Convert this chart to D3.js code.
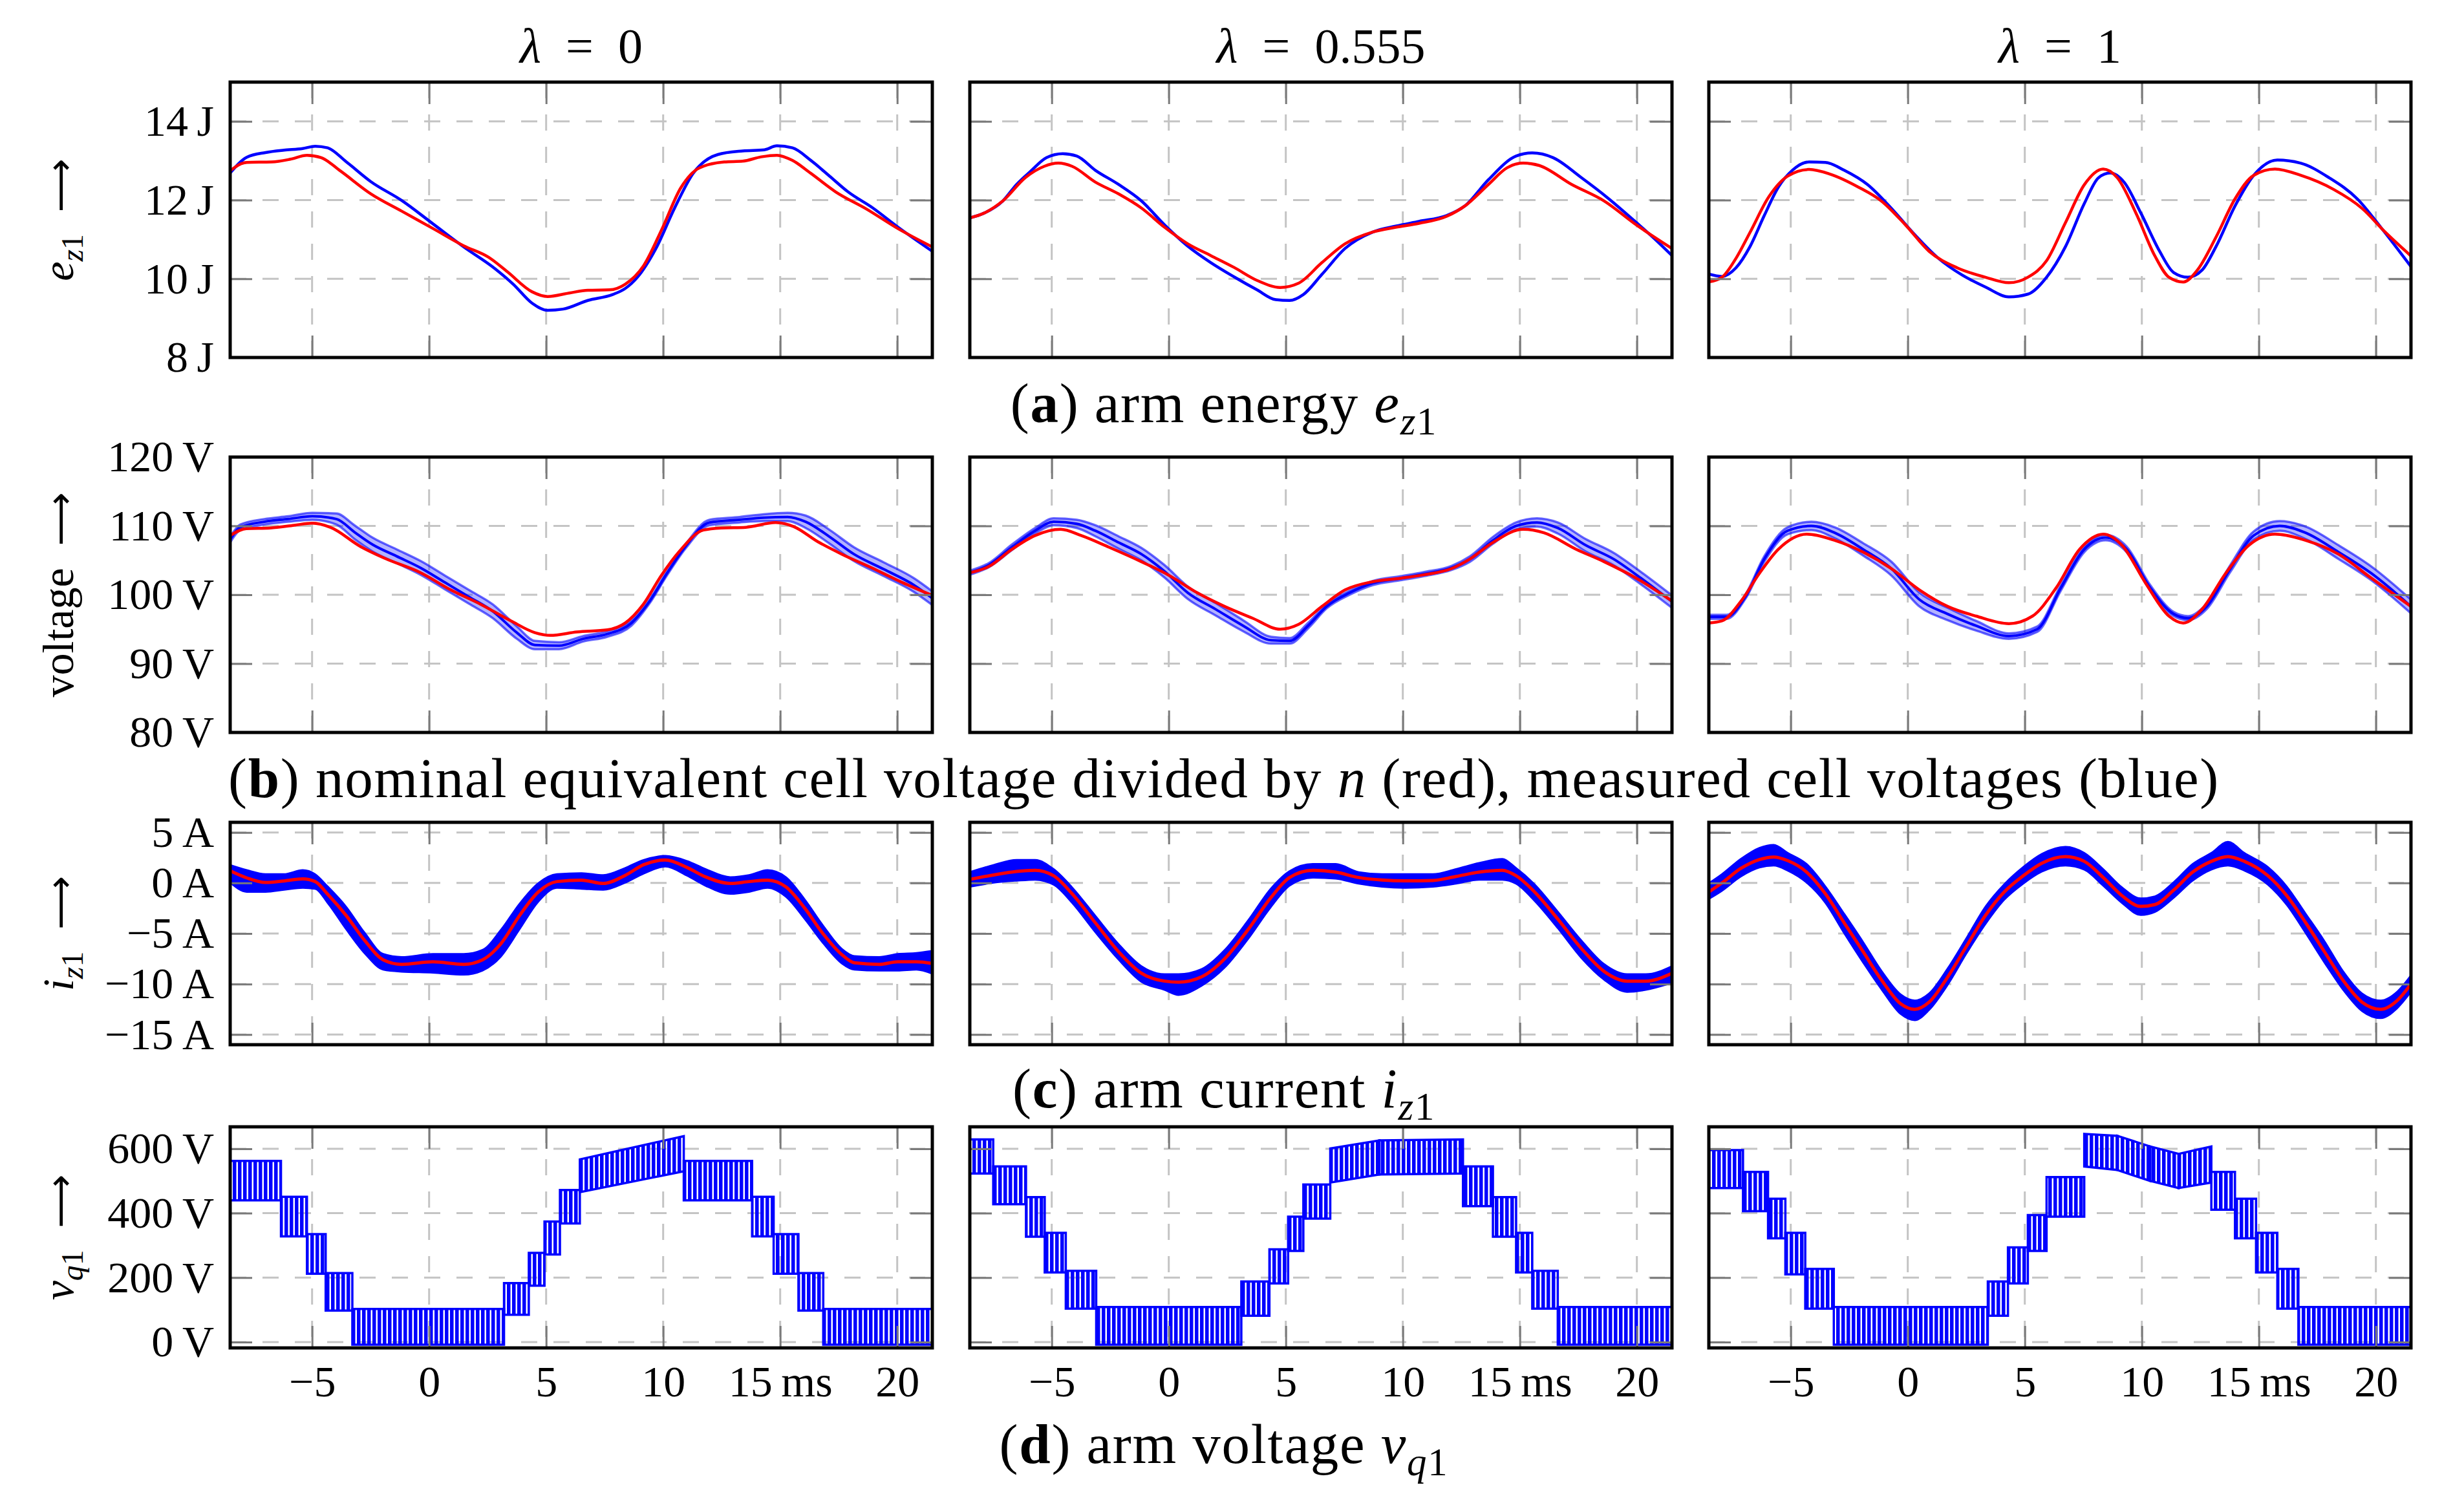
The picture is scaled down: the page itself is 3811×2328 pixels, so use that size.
<!DOCTYPE html>
<meta charset="utf-8">
<style>
body { margin: 0; background: white; }
text { font-family: "Liberation Serif", "DejaVu Serif", serif; fill: black; }
.grid line { stroke: #c4c4c4; stroke-width: 3; stroke-dasharray: 25 25; }
.frame { fill: none; stroke: black; stroke-width: 5; }
</style>
<body>
<script src="https://d3js.org/d3.v7.min.js"></script>
<script>
// ---------- data ----------
var timeDomain = [-8.5, 21.5];
var timeTicks = [-5, 0, 5, 10, 15, 20];
var timeTickLabels = ["\u22125", "0", "5", "10", "15\u2009ms", "20"];
var lambdas = ["0", "0.555", "1"];

var energyTicks = [8, 10, 12, 14];
var cellTicks = [80, 90, 100, 110, 120];
var currentTicks = [-15, -10, -5, 0, 5];
var armTicks = [0, 200, 400, 600];

// (a) arm energy [ms, J]
var energyBlue0 = [[-8.5,12.69],[-7.79,13.09],[-6.99,13.21],[-6.2,13.27],[-5.4,13.31],[-4.87,13.37],[-4.34,13.33],[-3.55,12.98],[-2.49,12.47],[-1.17,11.99],[0.16,11.40],[1.48,10.81],[2.81,10.26],[3.6,9.86],[4.4,9.38],[5.06,9.20],[5.72,9.23],[6.78,9.45],[7.84,9.60],[8.37,9.75],[8.9,10.04],[9.69,10.77],[10.49,11.80],[11.28,12.68],[12.34,13.16],[13.4,13.25],[14.33,13.28],[14.86,13.38],[15.52,13.33],[16.31,13.01],[17.11,12.61],[17.9,12.21],[18.96,11.80],[20.02,11.32],[21.5,10.70]];
var energyRed0 = [[-8.5,12.75],[-7.79,12.96],[-6.73,12.97],[-5.93,13.04],[-5.22,13.14],[-4.61,13.08],[-3.81,12.75],[-2.49,12.16],[-1.17,11.72],[0.16,11.28],[1.48,10.84],[2.54,10.55],[3.34,10.18],[4.4,9.67],[5.06,9.55],[5.99,9.64],[6.78,9.71],[7.71,9.72],[8.37,9.86],[9.16,10.33],[9.96,11.28],[10.75,12.31],[11.55,12.82],[12.61,12.97],[13.4,12.99],[14.19,13.10],[14.86,13.14],[15.52,13.01],[16.31,12.68],[17.37,12.21],[18.7,11.77],[20.02,11.28],[21.5,10.81]];
var energyBlue1 = [[-8.5,11.55],[-7.89,11.67],[-7.09,11.98],[-6.5,12.40],[-5.91,12.73],[-5.22,13.08],[-4.53,13.18],[-3.93,13.12],[-3.14,12.76],[-2.15,12.40],[-1.17,11.98],[-0.18,11.37],[0.81,10.83],[1.8,10.41],[2.79,10.05],[3.77,9.72],[4.57,9.47],[5.16,9.45],[5.75,9.60],[6.54,10.11],[7.53,10.77],[8.72,11.19],[9.7,11.34],[10.69,11.46],[11.88,11.61],[12.67,11.86],[13.66,12.52],[14.84,13.12],[15.53,13.20],[16.42,13.08],[17.61,12.58],[18.79,12.04],[19.98,11.43],[20.77,11.01],[21.5,10.59]];
var energyRed1 = [[-8.5,11.55],[-7.89,11.67],[-7.09,11.98],[-6.11,12.58],[-5.32,12.86],[-4.72,12.94],[-4.13,12.86],[-3.14,12.46],[-2.15,12.16],[-1.17,11.80],[-0.18,11.31],[0.81,10.89],[1.8,10.59],[2.79,10.29],[3.77,9.96],[4.76,9.78],[5.55,9.89],[6.54,10.41],[7.53,10.89],[8.72,11.19],[9.7,11.31],[10.69,11.41],[11.88,11.59],[12.67,11.86],[13.66,12.40],[14.45,12.82],[15.14,12.94],[15.83,12.88],[17.21,12.40],[18.6,11.98],[19.98,11.37],[21.5,10.77]];
var energyBlue2 = [[-8.5,10.12],[-7.94,10.06],[-7.34,10.28],[-6.74,10.82],[-6.13,11.61],[-5.53,12.33],[-4.93,12.76],[-4.22,12.97],[-3.52,12.96],[-2.72,12.76],[-1.71,12.39],[-0.7,11.79],[0.3,11.12],[1.31,10.52],[2.31,10.10],[3.32,9.79],[4.32,9.54],[5.13,9.61],[5.93,10.04],[6.74,10.82],[7.54,11.91],[8.15,12.57],[8.65,12.69],[9.25,12.45],[9.96,11.67],[10.76,10.70],[11.36,10.16],[11.97,10.04],[12.57,10.22],[13.17,10.82],[13.98,11.85],[14.78,12.63],[15.79,13.02],[16.79,12.94],[18.0,12.57],[19.21,12.03],[20.21,11.31],[21.5,10.31]];
var energyRed2 = [[-8.5,9.92],[-7.94,10.04],[-7.34,10.52],[-6.74,11.18],[-5.93,12.09],[-5.13,12.61],[-4.22,12.78],[-3.32,12.66],[-2.11,12.33],[-1.11,11.97],[-0.1,11.37],[0.91,10.70],[2.11,10.28],[3.32,10.04],[4.32,9.90],[5.13,10.04],[5.93,10.46],[6.74,11.43],[7.54,12.39],[8.35,12.79],[8.95,12.57],[9.75,11.67],[10.56,10.58],[11.16,10.04],[11.77,9.92],[12.37,10.22],[13.17,11.06],[13.98,12.03],[14.78,12.63],[15.69,12.79],[16.79,12.63],[18.2,12.27],[19.41,11.79],[20.41,11.18],[21.5,10.58]];

// (b) cell voltage: red [ms, V], blue [ms, mean V, half spread V]
var cellRed0 = [[-8.5,108.6],[-7.81,109.6],[-6.79,109.7],[-5.76,110.1],[-4.99,110.4],[-4.22,109.8],[-2.93,107.0],[-1.9,105.3],[-0.36,103.2],[0.93,100.7],[2.21,98.6],[3.5,96.2],[4.52,94.5],[5.17,94.1],[6.32,94.6],[7.61,94.9],[8.38,95.9],[9.15,98.6],[9.92,102.8],[10.69,106.3],[11.72,109.4],[12.49,109.7],[13.52,109.8],[14.81,110.5],[15.58,109.9],[16.61,107.7],[17.63,105.9],[18.92,103.9],[20.21,101.8],[21.5,99.9]];
var cellBlue0 = [[-8.5,108.0,0.4],[-8.07,109.8,0.4],[-7.04,110.6,0.4],[-6.02,111.0,0.4],[-4.99,111.4,0.5],[-3.96,111.0,0.8],[-3.19,109.1,1.0],[-2.42,107.3,1.0],[-1.39,105.6,1.0],[-0.36,103.9,1.0],[0.67,101.8,1.0],[1.7,99.7,1.0],[2.72,97.6,1.0],[3.75,94.5,0.9],[4.52,92.7,0.6],[5.55,92.6,0.5],[6.58,93.6,0.4],[7.61,94.3,0.4],[8.64,95.9,0.4],[9.41,99.0,0.3],[10.18,103.2,0.3],[10.95,107.0,0.3],[11.98,110.5,0.4],[13.26,110.9,0.4],[14.29,111.2,0.5],[15.32,111.3,0.6],[16.09,110.6,0.9],[17.12,108.4,1.0],[18.15,105.9,1.0],[19.43,103.7,1.0],[20.72,101.4,1.0],[21.5,99.5,1.0]];
var cellRed1 = [[-8.5,103.2],[-7.69,104.1],[-6.7,106.6],[-5.71,108.6],[-4.62,109.5],[-3.74,108.6],[-2.55,106.9],[-1.17,104.8],[0.02,102.8],[1.21,100.3],[2.39,98.3],[3.58,96.6],[4.76,95.0],[5.55,95.7],[6.54,98.3],[7.53,100.7],[8.72,101.9],[9.9,102.4],[10.89,102.9],[12.08,103.8],[12.87,105.2],[13.85,107.6],[15.14,109.5],[16.03,109.0],[17.41,106.6],[18.6,104.8],[19.98,102.4],[21.5,99.1]];
var cellBlue1 = [[-8.5,103.2,0.3],[-7.69,104.3,0.3],[-6.7,106.9,0.4],[-5.71,109.3,0.4],[-4.92,110.6,0.5],[-3.93,110.3,0.6],[-3.14,109.3,0.8],[-2.15,107.6,0.9],[-1.17,105.9,0.9],[-0.18,103.4,0.9],[0.81,100.3,0.9],[2.0,97.9,0.9],[3.18,95.5,0.8],[4.37,93.4,0.5],[5.16,93.3,0.4],[5.95,95.5,0.4],[6.74,98.3,0.3],[7.73,100.3,0.3],[8.72,101.7,0.3],[9.9,102.4,0.3],[10.89,103.0,0.3],[12.08,103.9,0.3],[12.87,105.2,0.4],[13.85,107.9,0.5],[14.84,110.0,0.5],[15.73,110.5,0.6],[16.62,109.7,0.8],[17.81,107.2,0.9],[19.0,105.2,0.9],[20.18,102.4,0.9],[21.5,99.0,0.9]];
var cellRed2 = [[-8.5,95.9],[-7.94,96.2],[-7.14,99.0],[-6.34,103.1],[-5.53,106.6],[-4.32,108.8],[-3.12,107.9],[-1.91,106.2],[-0.7,103.8],[0.5,100.7],[1.71,98.3],[2.92,96.9],[4.32,95.8],[5.33,96.9],[6.34,101.0],[7.34,106.6],[8.35,108.8],[9.15,107.2],[10.16,101.7],[11.16,96.9],[11.77,95.9],[12.57,97.9],[13.58,103.1],[14.58,107.2],[15.69,108.8],[17.0,107.9],[18.4,105.9],[19.81,102.4],[21.5,98.3]];
var cellBlue2 = [[-8.5,96.8,0.3],[-7.74,96.8,0.3],[-6.94,99.7,0.3],[-6.13,105.2,0.4],[-5.13,109.3,0.5],[-4.12,110.0,0.6],[-3.12,109.0,0.8],[-1.91,106.6,0.9],[-0.7,103.8,1.0],[0.5,99.3,1.0],[1.71,97.2,0.9],[2.92,95.5,0.7],[4.32,94.0,0.4],[5.53,95.0,0.4],[6.54,101.0,0.4],[7.54,106.6,0.4],[8.45,108.3,0.4],[9.35,106.6,0.4],[10.36,101.0,0.4],[11.36,97.2,0.3],[11.97,96.6,0.3],[12.77,98.3,0.4],[13.78,103.8,0.5],[14.78,108.6,0.6],[15.89,110.0,0.7],[17.0,109.0,0.9],[18.4,106.2,1.0],[19.81,103.1,1.0],[21.5,98.3,1.0]];

// (c) arm current: red [ms, A], blue noise band [ms, low A, high A]
var currentRed0 = [[-8.5,1.2],[-7.79,0.5],[-6.99,0.05],[-6.2,0.2],[-5.4,0.4],[-4.87,0.14],[-4.34,-1.1],[-3.55,-3.2],[-2.75,-5.7],[-1.96,-7.6],[-1.17,-8.05],[0.16,-7.8],[1.48,-8.05],[2.28,-7.6],[3.07,-6.0],[3.87,-3.2],[4.66,-0.9],[5.46,0.14],[6.51,0.28],[7.44,-0.05],[8.37,0.74],[9.16,1.8],[10.09,2.27],[11.02,1.53],[11.81,0.6],[12.87,-0.05],[13.67,0.14],[14.46,0.28],[15.25,-0.4],[16.05,-2.5],[16.84,-5.05],[17.64,-7.1],[18.17,-7.9],[19.23,-8.05],[20.02,-7.8],[20.82,-7.8],[21.5,-7.96]];
var currentBlue0 = [[-8.5,0.0,1.8],[-7.79,-0.9,1.3],[-6.99,-0.9,0.9],[-6.2,-0.7,0.9],[-5.4,-0.5,1.3],[-4.87,-0.6,0.9],[-4.34,-2.0,-0.3],[-3.55,-4.6,-2.3],[-2.75,-7.0,-4.9],[-1.96,-8.6,-7.0],[-1.17,-8.8,-7.3],[0.16,-8.9,-7.0],[1.48,-9.1,-7.0],[2.28,-8.7,-6.6],[3.07,-7.3,-4.6],[3.87,-4.6,-2.0],[4.66,-1.9,0.0],[5.46,-0.5,0.9],[6.51,-0.6,1.0],[7.44,-0.7,0.8],[8.37,0.0,1.5],[9.16,0.9,2.3],[10.09,1.6,2.7],[11.02,0.7,2.2],[11.81,-0.3,1.4],[12.87,-1.1,0.6],[13.67,-0.9,0.8],[14.46,-0.5,1.3],[15.25,-1.4,0.6],[16.05,-3.6,-1.6],[16.84,-6.0,-4.2],[17.64,-8.0,-6.5],[18.17,-8.6,-7.2],[19.23,-8.7,-7.3],[20.02,-8.7,-7.0],[20.82,-8.6,-6.9],[21.5,-9.0,-6.7]];
var currentRed1 = [[-8.5,0.36],[-7.49,0.79],[-6.5,1.14],[-5.71,1.25],[-4.92,0.71],[-4.13,-1.07],[-3.14,-3.93],[-2.15,-6.79],[-1.17,-8.93],[-0.18,-9.71],[0.42,-9.82],[1.4,-9.29],[2.39,-7.5],[3.38,-4.64],[4.37,-1.43],[5.16,0.54],[6.15,1.25],[7.13,1.07],[8.12,0.54],[9.11,0.29],[10.1,0.21],[11.28,0.25],[12.27,0.64],[13.26,1.07],[14.25,1.25],[14.84,0.71],[15.63,-0.89],[16.62,-3.57],[17.61,-6.43],[18.6,-8.75],[19.58,-9.71],[20.38,-9.71],[21.5,-8.93]];
var currentBlue1 = [[-8.5,-0.4,1.1],[-7.49,0.0,1.8],[-6.5,0.2,2.3],[-5.71,0.3,2.3],[-4.92,-0.2,1.4],[-4.13,-2.0,-0.4],[-3.14,-4.9,-3.2],[-2.15,-7.6,-6.0],[-1.17,-9.8,-8.2],[-0.18,-10.6,-9.0],[0.42,-11.1,-9.0],[1.4,-10.2,-8.5],[2.39,-8.4,-6.6],[3.38,-5.6,-3.7],[4.37,-2.4,-0.5],[5.16,-0.3,1.2],[6.15,0.5,1.9],[7.13,0.4,1.9],[8.12,-0.1,1.1],[9.11,-0.4,0.9],[10.1,-0.5,0.9],[11.28,-0.4,0.9],[12.27,-0.1,1.4],[13.26,0.3,2.0],[14.25,0.3,2.4],[14.84,-0.1,1.5],[15.63,-1.8,-0.1],[16.62,-4.5,-2.8],[17.61,-7.4,-5.6],[18.6,-9.6,-8.0],[19.58,-10.8,-9.0],[20.38,-10.6,-9.0],[21.5,-9.9,-8.2]];
var currentRed2 = [[-8.5,-0.89],[-7.94,0.0],[-7.14,1.43],[-6.34,2.32],[-5.73,2.57],[-5.13,2.21],[-4.32,1.07],[-3.52,-1.07],[-2.72,-3.93],[-1.91,-6.79],[-1.11,-9.64],[-0.3,-11.96],[0.3,-12.5],[0.91,-11.79],[1.71,-9.29],[2.51,-6.25],[3.32,-3.21],[4.12,-0.89],[4.93,0.71],[5.73,1.96],[6.74,2.61],[7.54,2.14],[8.35,0.54],[9.15,-1.25],[9.96,-2.32],[10.56,-2.14],[11.36,-0.71],[12.17,1.07],[12.97,2.14],[13.68,2.61],[14.38,2.14],[15.39,0.71],[16.19,-1.25],[17.0,-3.93],[17.8,-6.79],[18.6,-9.64],[19.41,-11.79],[20.21,-12.5],[20.92,-11.61],[21.5,-10.0]];
var currentBlue2 = [[-8.5,-1.6,0.0],[-7.94,-0.8,0.9],[-7.14,0.6,2.4],[-6.34,1.5,3.5],[-5.73,1.7,3.8],[-5.13,1.2,3.0],[-4.32,0.0,1.9],[-3.52,-2.0,-0.3],[-2.72,-5.0,-3.0],[-1.91,-7.9,-5.8],[-1.11,-10.6,-8.7],[-0.3,-13.0,-11.0],[0.3,-13.6,-11.6],[0.91,-12.6,-10.9],[1.71,-10.1,-8.4],[2.51,-7.0,-5.4],[3.32,-4.1,-2.3],[4.12,-1.7,-0.1],[4.93,-0.1,1.6],[5.73,1.1,2.9],[6.74,1.7,3.6],[7.54,1.3,3.0],[8.35,-0.3,1.4],[9.15,-2.0,-0.4],[9.96,-3.2,-1.5],[10.56,-2.9,-1.3],[11.36,-1.5,0.1],[12.17,0.2,1.9],[12.97,1.3,3.0],[13.68,1.7,4.1],[14.38,1.2,3.0],[15.39,-0.2,1.6],[16.19,-2.2,-0.3],[17.0,-5.0,-3.0],[17.8,-7.9,-5.7],[18.6,-10.6,-8.7],[19.41,-12.7,-10.9],[20.21,-13.4,-11.6],[20.92,-12.4,-10.7],[21.5,-10.8,-9.1]];

// (d) arm voltage switching bands [t0 ms, t1 ms, low0 V, high0 V, low1 V, high1 V]
var armBands0 = [[-8.5,-6.33,440,562,440,562],[-6.33,-5.22,328,451,328,451],[-5.22,-4.42,212,335,212,335],[-4.42,-3.28,98,214,98,214],[-3.28,3.2,-8,103,-8,103],[3.2,4.26,85,183,85,183],[4.26,4.93,175,277,175,277],[4.93,5.59,272,374,272,374],[5.59,6.44,368,472,368,472],[6.44,10.88,465,567,530,639],[10.88,13.8,440,562,440,562],[13.8,14.72,328,451,328,451],[14.72,15.78,212,335,212,335],[15.78,16.84,98,214,98,214],[16.84,21.5,-8,103,-8,103]];
var armBands1 = [[-8.5,-7.5,523,629,523,629],[-7.5,-6.1,428,545,428,545],[-6.1,-5.3,327,450,327,450],[-5.3,-4.4,216,339,216,339],[-4.4,-3.1,104,221,104,221],[-3.1,3.1,-8,109,-8,109],[3.1,4.3,82,188,82,188],[4.3,5.1,182,288,182,288],[5.1,5.75,283,389,283,389],[5.75,6.9,383,489,383,489],[6.9,9.0,495,601,520,626],[9.0,12.57,520,626,523,629],[12.57,13.85,422,545,422,545],[13.85,14.84,327,450,327,450],[14.84,15.53,216,339,216,339],[15.53,16.62,104,221,104,221],[16.62,21.5,-8,109,-8,109]];
var armBands2 = [[-8.5,-7.04,478,596,478,596],[-7.04,-5.97,406,528,406,528],[-5.97,-5.23,322,445,322,445],[-5.23,-4.38,210,339,210,339],[-4.38,-3.16,104,227,104,227],[-3.16,3.42,-8,109,-8,109],[3.42,4.28,82,188,82,188],[4.28,5.13,182,294,182,294],[5.13,5.93,283,394,283,394],[5.93,7.54,389,512,389,512],[7.54,8.95,545,646,534,640],[8.95,10.36,534,640,500,607],[10.36,11.57,500,607,478,584],[11.57,12.97,478,584,495,607],[12.97,13.98,411,528,411,528],[13.98,14.88,322,445,322,445],[14.88,15.79,216,339,216,339],[15.79,16.69,104,227,104,227],[16.69,21.5,-8,109,-8,109]];

// ---------- layout ----------
var width = 3811, height = 2328;
var blue = "#0000ff", red = "#ff0000";
var panelLeft = [356, 1500, 2643], panelWidth = 1086;
var rowBox = { a: [127, 553], b: [707, 1133], c: [1272, 1616], d: [1743, 2085] };
var tickSize = 68, capSize = 87, titleSize = 76;
var captionX = 1893;

var svg = d3.select("body").append("svg")
    .attr("width", width)
    .attr("height", height);
var defs = svg.append("defs");

defs.append("pattern")
    .attr("id", "pwm")
    .attr("patternUnits", "userSpaceOnUse")
    .attr("width", 8).attr("height", 8)
  .append("rect")
    .attr("width", 5.5).attr("height", 8)
    .attr("fill", blue);

// write a run of text pieces; flags: B bold, I italic, S subscript, A arrow glyph
function richText(sel, parts, size) {
  var shift = 0;
  parts.forEach(function(p) {
    var t = sel.append("tspan").text(p[0]);
    var flags = p[1] || "";
    var target = flags.indexOf("S") >= 0 ? size * 0.22 : 0;
    if (target !== shift) { t.attr("dy", target - shift); shift = target; }
    if (flags.indexOf("S") >= 0) t.attr("font-size", size * 0.7);
    if (flags.indexOf("I") >= 0) t.attr("font-style", "italic");
    if (flags.indexOf("B") >= 0) t.attr("font-weight", "bold");
    if (flags.indexOf("A") >= 0) t.attr("font-family", "DejaVu Sans").attr("font-size", size * 0.85);
  });
}

function panel(col, row, yDomain, yTicks, yFormat, draw) {
  var box = rowBox[row];
  var x = d3.scaleLinear().domain(timeDomain).range([panelLeft[col], panelLeft[col] + panelWidth]);
  var y = d3.scaleLinear().domain(yDomain).range([box[1], box[0]]);
  var g = svg.append("g");
  var clipId = "clip-" + row + col;
  defs.append("clipPath").attr("id", clipId)
    .append("rect")
      .attr("x", x.range()[0]).attr("y", box[0])
      .attr("width", panelWidth).attr("height", box[1] - box[0]);

  var grid = g.append("g").attr("class", "grid");
  grid.selectAll(".gx").data(timeTicks).join("line").attr("class", "gx")
      .attr("x1", x).attr("x2", x)
      .attr("y1", box[0]).attr("y2", box[1]);
  grid.selectAll(".gy").data(yTicks).join("line").attr("class", "gy")
      .attr("x1", x.range()[0]).attr("x2", x.range()[1])
      .attr("y1", y).attr("y2", y);

  var plot = g.append("g").attr("clip-path", "url(#" + clipId + ")");
  draw(plot, x, y);

  // inward ticks on all four sides
  var axes = [
    [d3.axisLeft(y).tickValues(yTicks), x.range()[0], 0, col === 0],
    [d3.axisRight(y).tickValues(yTicks), x.range()[1], 0, false],
    [d3.axisTop(x).tickValues(timeTicks), 0, box[0], false],
    [d3.axisBottom(x).tickValues(timeTicks), 0, box[1], row === "d"]
  ];
  axes.forEach(function(a, i) {
    var ax = a[0].tickSizeInner(-34).tickSizeOuter(0);
    if (i === 0) ax.tickPadding(25).tickFormat(a[3] ? yFormat : "");
    else if (i === 3) ax.tickPadding(27).tickFormat(a[3] ? function(d, k) { return timeTickLabels[k]; } : "");
    else ax.tickFormat("");
    var ag = g.append("g")
        .attr("transform", "translate(" + a[1] + "," + a[2] + ")")
        .call(ax);
    ag.select(".domain").remove();
    ag.attr("font-family", null).attr("font-size", tickSize);
    ag.selectAll(".tick line").attr("stroke", "#7a7a7a").attr("stroke-width", 3);
  });

  g.append("rect").attr("class", "frame")
      .attr("x", x.range()[0]).attr("y", box[0])
      .attr("width", panelWidth).attr("height", box[1] - box[0]);
}

function unit(u) { return function(d) { return (d < 0 ? "\u2212" + (-d) : d) + "\u2009" + u; }; }

var energyRed = [energyRed0, energyRed1, energyRed2];
var energyBlue = [energyBlue0, energyBlue1, energyBlue2];
var cellRed = [cellRed0, cellRed1, cellRed2];
var cellBlue = [cellBlue0, cellBlue1, cellBlue2];
var currentRed = [currentRed0, currentRed1, currentRed2];
var currentBlue = [currentBlue0, currentBlue1, currentBlue2];
var armBands = [armBands0, armBands1, armBands2];

function curve(x, y) {
  return d3.line().x(function(d) { return x(d[0]); }).y(function(d) { return y(d[1]); }).curve(d3.curveMonotoneX);
}

[0, 1, 2].forEach(function(c) {
  // (a) energy
  panel(c, "a", [8, 15], energyTicks, unit("J"), function(p, x, y) {
    p.append("path").datum(energyBlue[c]).attr("d", curve(x, y))
        .attr("fill", "none").attr("stroke", blue).attr("stroke-width", 4.5);
    p.append("path").datum(energyRed[c]).attr("d", curve(x, y))
        .attr("fill", "none").attr("stroke", red).attr("stroke-width", 4.5);
  });

  // (b) cell voltages
  panel(c, "b", [80, 120], cellTicks, unit("V"), function(p, x, y) {
    var band = d3.area().x(function(d) { return x(d[0]); })
        .y0(function(d) { return y(d[1] - d[2]); })
        .y1(function(d) { return y(d[1] + d[2]); })
        .curve(d3.curveMonotoneX);
    p.append("path").datum(cellBlue[c]).attr("d", band)
        .attr("fill", blue).attr("fill-opacity", 0.3);
    [-1, 1].forEach(function(s) {
      p.append("path").datum(cellBlue[c])
          .attr("d", d3.line().x(function(d) { return x(d[0]); })
              .y(function(d) { return y(d[1] + s * d[2]); }).curve(d3.curveMonotoneX))
          .attr("fill", "none").attr("stroke", blue).attr("stroke-opacity", 0.6).attr("stroke-width", 3.5);
    });
    p.append("path").datum(cellBlue[c]).attr("d", curve(x, y))
        .attr("fill", "none").attr("stroke", blue).attr("stroke-width", 4);
    p.append("path").datum(cellRed[c]).attr("d", curve(x, y))
        .attr("fill", "none").attr("stroke", red).attr("stroke-width", 4.5);
  });

  // (c) arm current
  panel(c, "c", [-16, 6], currentTicks, unit("A"), function(p, x, y) {
    p.append("path").datum(currentBlue[c])
        .attr("d", d3.area().x(function(d) { return x(d[0]); })
            .y0(function(d) { return y(d[1]); })
            .y1(function(d) { return y(d[2]); })
            .curve(d3.curveMonotoneX))
        .attr("fill", blue).attr("stroke", blue).attr("stroke-width", 2);
    p.append("path").datum(currentRed[c]).attr("d", curve(x, y))
        .attr("fill", "none").attr("stroke", red).attr("stroke-width", 5);
  });

  // (d) arm voltage
  panel(c, "d", [-18, 668], armTicks, unit("V"), function(p, x, y) {
    var area = d3.area().x(function(d) { return x(d[0]); })
        .y0(function(d) { return y(d[1]); })
        .y1(function(d) { return y(d[2]); });
    p.selectAll(".band").data(armBands[c]).join("path").attr("class", "band")
        .attr("d", function(b) { return area([[b[0], b[2], b[3]], [b[1], b[4], b[5]]]); })
        .attr("fill", "url(#pwm)")
        .attr("stroke", blue).attr("stroke-width", 3.5);
  });

  // column title
  var t = svg.append("text")
      .attr("x", panelLeft[c] + panelWidth / 2).attr("y", 97)
      .attr("text-anchor", "middle").attr("font-size", titleSize);
  richText(t, [["\u03bb", "I"], ["\u2002=\u2002" + lambdas[c], ""]], titleSize);
});

// y axis labels
var yLabels = [
  ["a", [["e", "I"], ["z", "IS"], ["1", "S"], ["\u2002", ""], ["\u27f6", "A"]]],
  ["b", [["voltage\u2002", ""], ["\u27f6", "A"]]],
  ["c", [["i", "I"], ["z", "IS"], ["1", "S"], ["\u2002", ""], ["\u27f6", "A"]]],
  ["d", [["v", "I"], ["q", "IS"], ["1", "S"], ["\u2002", ""], ["\u27f6", "A"]]]
];
yLabels.forEach(function(l) {
  var box = rowBox[l[0]];
  var t = svg.append("text")
      .attr("transform", "translate(113," + (box[0] + box[1]) / 2 + ") rotate(-90)")
      .attr("text-anchor", "middle").attr("font-size", tickSize);
  richText(t, l[1], tickSize);
});

// row captions
var captions = [
  [653, [["(", ""], ["a", "B"], [") arm energy ", ""], ["e", "I"], ["z", "IS"], ["1", "S"]]],
  [1233, [["(", ""], ["b", "B"], [") nominal equivalent cell voltage divided by ", ""], ["n", "I"], [" (red), measured cell voltages (blue)", ""]]],
  [1713, [["(", ""], ["c", "B"], [") arm current ", ""], ["i", "I"], ["z", "IS"], ["1", "S"]]],
  [2263, [["(", ""], ["d", "B"], [") arm voltage ", ""], ["v", "I"], ["q", "IS"], ["1", "S"]]]
];
captions.forEach(function(cap) {
  var t = svg.append("text")
      .attr("x", captionX).attr("y", cap[0])
      .attr("text-anchor", "middle").attr("font-size", capSize)
      .attr("letter-spacing", 1.7);
  richText(t, cap[1], capSize);
});
</script>
</body>
</html>
